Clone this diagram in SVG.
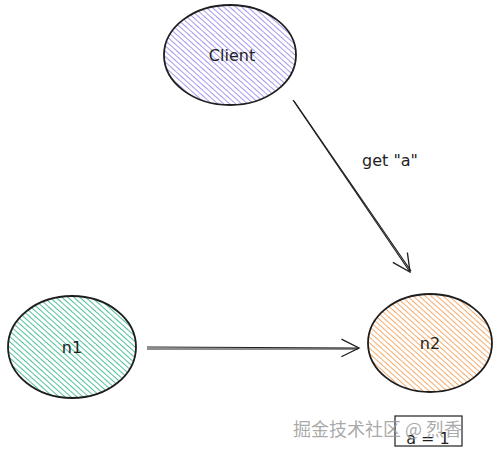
<svg xmlns="http://www.w3.org/2000/svg" width="498" height="453" viewBox="0 0 498 453">
<defs>
<pattern id="hp" width="4" height="4" patternUnits="userSpaceOnUse" patternTransform="rotate(-48)"><line x1="0" y1="0" x2="0" y2="4" stroke="#9d8fea" stroke-width="1.8"/></pattern>
<pattern id="hg" width="4" height="4" patternUnits="userSpaceOnUse" patternTransform="rotate(-48)"><line x1="0" y1="0" x2="0" y2="4" stroke="#3dbb8c" stroke-width="1.8"/></pattern>
<pattern id="ho" width="4" height="4" patternUnits="userSpaceOnUse" patternTransform="rotate(-48)"><line x1="0" y1="0" x2="0" y2="4" stroke="#f3a45f" stroke-width="1.8"/></pattern>
<marker id="ah" viewBox="0 0 20 20" refX="18" refY="10" markerWidth="22" markerHeight="22" markerUnits="userSpaceOnUse" orient="auto"><path d="M2 2 L18 10 L2 18" fill="none" stroke="#1e1e1e" stroke-width="1.2"/></marker>
<style>
.node{stroke:#1e1e1e;stroke-width:1.8}
.lbl{font-family:"Comic Sans MS","DejaVu Sans",sans-serif;font-size:16px;fill:#1e1e1e;text-anchor:middle}
.edge{fill:none;stroke:#1e1e1e;stroke-width:1.2}
</style>
</defs>
<rect width="498" height="453" fill="#ffffff"/>
<g id="client">
<ellipse class="node" cx="230" cy="55" rx="66" ry="50" fill="url(#hp)"/>
<text class="lbl" x="232" y="61">Client</text>
</g>
<g id="n1">
<ellipse class="node" cx="72" cy="347" rx="64" ry="51" fill="url(#hg)"/>
<text class="lbl" x="72" y="353">n1</text>
</g>
<g id="n2">
<ellipse class="node" cx="430" cy="343" rx="62" ry="49" fill="url(#ho)"/>
<text class="lbl" x="430" y="349">n2</text>
</g>
<g id="connectors">
<path class="edge" d="M293 100 L410 272" marker-end="url(#ah)"/>
<path class="edge" d="M294 101 L411 271"/>
<path class="edge" d="M147 347 L359 348" marker-end="url(#ah)"/>
<path class="edge" d="M147 349 L358 349"/>
<text class="lbl" x="390" y="166">get "a"</text>
</g>
<g id="note">
<rect x="395" y="416" width="67" height="30" fill="#ffffff" stroke="#1e1e1e" stroke-width="1.2"/>
<text class="lbl" x="428" y="444" font-size="10">a = 1</text>
</g>
<text x="293" y="436" font-family="'Noto Sans CJK SC',sans-serif" font-size="18" fill="#9a9a9a" fill-opacity="0.85">掘金技术社区 @ 烈香</text>
</svg>
